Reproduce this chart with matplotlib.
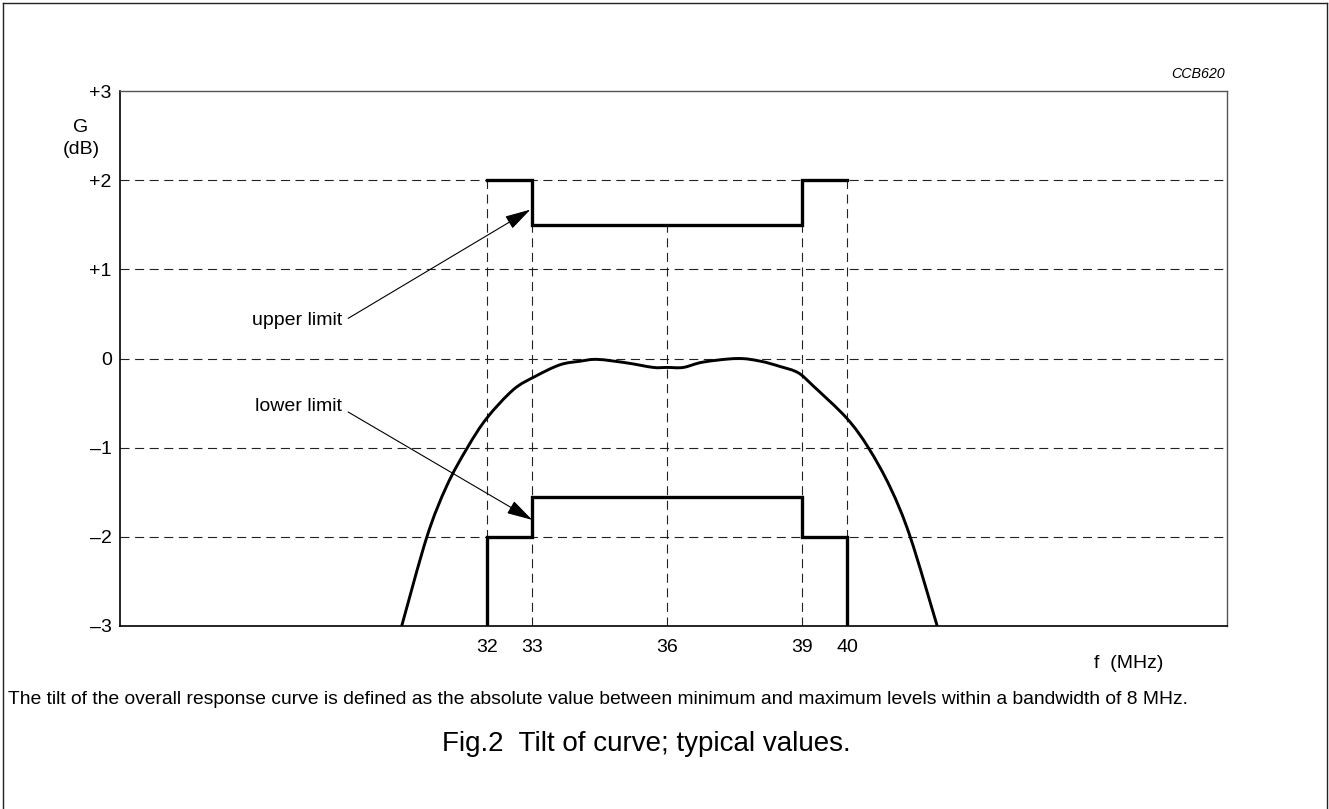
import matplotlib
matplotlib.use('Agg')
import matplotlib.pyplot as plt
from matplotlib.lines import Line2D
from matplotlib.path import Path
from matplotlib.patches import PathPatch

plt.rcParams['font.family'] = ['Liberation Sans', 'DejaVu Sans']
plt.rcParams['lines.scale_dashes'] = False

# ---- data ----
curve_f = [30.10, 30.66, 31.10, 31.56, 31.99, 32.58, 33.07, 33.62, 34.07,
           34.45, 35.11, 35.69, 36.00, 36.36, 36.80, 37.56, 38.07, 38.51,
           38.91, 39.25, 39.99, 40.47, 40.96, 41.40, 42.00]
curve_g = [-3.00, -2.00, -1.43, -1.00, -0.67, -0.35, -0.20, -0.07, -0.03,
           -0.01, -0.05, -0.10, -0.10, -0.10, -0.04, 0.00, -0.03, -0.09,
           -0.16, -0.31, -0.67, -1.00, -1.45, -2.00, -3.00]

upper_f = [32, 33, 33, 39, 39, 40]
upper_g = [2, 2, 1.5, 1.5, 2, 2]
lower_f = [32, 32, 33, 33, 39, 39, 40, 40]
lower_g = [-3, -2, -2, -1.55, -1.55, -2, -2, -3]

grid_levels = [2, 1, 0, -1, -2]
vline_f = [32, 33, 36, 39, 40]
vline_top = [2, 2, 1.5, 2, 2]

xtick_vals = [32, 33, 36, 39, 40]
xtick_labels = ['32', '33', '36', '39', '40']
ytick_vals = [-3, -2, -1, 0, 1, 2, 3]
ytick_labels = ['\u20133', '\u20132', '\u20131', '0', '+1', '+2', '+3']

W, H = 1329, 809
fig = plt.figure(figsize=(W / 100, H / 100), dpi=100)

def fx(px):
    return px / W

def fy(py):
    return 1 - py / H

ax = fig.add_axes([fx(120), fy(626), fx(1227) - fx(120), fy(91) - fy(626)])
ax.set_xlim(23.84, 48.44)
ax.set_ylim(-3, 3)

dash = (0, (6.5, 4.0))
for g in grid_levels:
    ax.axhline(g, color='#222222', lw=0.8, linestyle=dash, zorder=1)
for f, t in zip(vline_f, vline_top):
    ax.plot([f, f], [-3, t], color='#222222', lw=0.8, linestyle=dash, zorder=1)

ax.plot(upper_f, upper_g, color='black', lw=2.4, solid_joinstyle='miter', zorder=3)
ax.plot(lower_f, lower_g, color='black', lw=2.4, solid_joinstyle='miter', zorder=3)

# smooth rendering of the response curve through the read points (Catmull-Rom -> Bezier)
verts = [(curve_f[0], curve_g[0])]
codes = [Path.MOVETO]
n = len(curve_f)
for i in range(n - 1):
    p0 = (curve_f[max(i - 1, 0)], curve_g[max(i - 1, 0)])
    p1 = (curve_f[i], curve_g[i])
    p2 = (curve_f[i + 1], curve_g[i + 1])
    p3 = (curve_f[min(i + 2, n - 1)], curve_g[min(i + 2, n - 1)])
    c1 = (p1[0] + (p2[0] - p0[0]) / 6, p1[1] + (p2[1] - p0[1]) / 6)
    c2 = (p2[0] - (p3[0] - p1[0]) / 6, p2[1] - (p3[1] - p1[1]) / 6)
    verts += [c1, c2, p2]
    codes += [Path.CURVE4] * 3
ax.add_patch(PathPatch(Path(verts, codes), facecolor='none', edgecolor='black',
                       lw=2.1, zorder=3, transform=ax.transData))

ax.set_xticks(xtick_vals)
ax.set_xticklabels(xtick_labels)
ax.set_yticks(ytick_vals)
ax.set_yticklabels(ytick_labels)
ax.tick_params(axis='both', length=0, labelsize=14)
ax.tick_params(axis='x', pad=9)
ax.tick_params(axis='y', pad=6)

for s in ['left', 'bottom']:
    ax.spines[s].set_color('black')
    ax.spines[s].set_linewidth(1.2)
for s in ['top', 'right']:
    ax.spines[s].set_color('#555555')
    ax.spines[s].set_linewidth(1.0)

arrow_kw = dict(arrowstyle='-|>,head_length=0.8,head_width=0.22', color='black',
                lw=0.8, mutation_scale=20, shrinkA=0, shrinkB=0)
ax.annotate('', xy=(32.96, 1.67), xytext=(28.91, 0.45), arrowprops=arrow_kw)
ax.annotate('', xy=(33.0, -1.81), xytext=(28.91, -0.60), arrowprops=arrow_kw)
ax.text(28.77, 0.43, 'upper limit', ha='right', va='center', fontsize=14)
ax.text(28.77, -0.54, 'lower limit', ha='right', va='center', fontsize=14)

fig.text(fx(81), fy(127), 'G', ha='center', va='center', fontsize=14)
fig.text(fx(81), fy(149), '(dB)', ha='center', va='center', fontsize=14)
fig.text(fx(1225), fy(74), 'CCB620', ha='right', va='center', fontsize=10.3, style='italic')
fig.text(fx(1129), fy(664), 'f  (MHz)', ha='center', va='center', fontsize=14)
fig.text(fx(8), fy(699),
         'The tilt of the overall response curve is defined as the absolute value between '
         'minimum and maximum levels within a bandwidth of 8 MHz.',
         ha='left', va='center', fontsize=13.85)
fig.text(fx(646), fy(744), 'Fig.2  Tilt of curve; typical values.', ha='center',
         va='center', fontsize=20)

# outer frame
for (x0, y0, x1, y1) in [(3, 3, 3, H), (3, 3, 1327, 3), (1327, 3, 1327, H)]:
    fig.add_artist(Line2D([fx(x0), fx(x1)], [fy(y0), fy(y1)], color='#222222', lw=1.0,
                          transform=fig.transFigure))

fig.savefig('out.png', dpi=100)
